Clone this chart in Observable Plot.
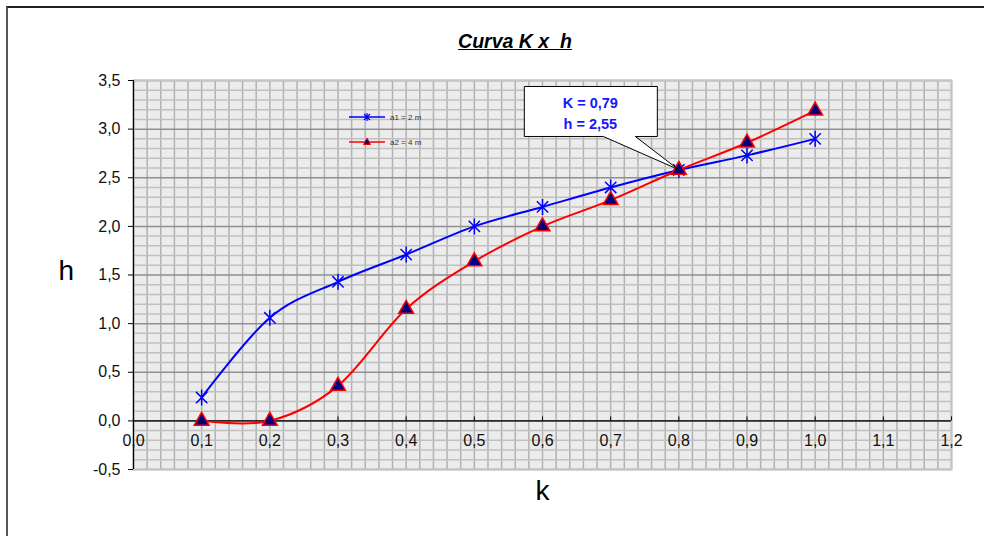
<!DOCTYPE html>
<html>
<head>
<meta charset="utf-8">
<script src="https://cdn.jsdelivr.net/npm/d3@7"></script>
<script src="https://cdn.jsdelivr.net/npm/@observablehq/plot@0.6"></script>
<style>
  html, body { margin: 0; padding: 0; background: #fff; }
  #wrap { position: relative; width: 984px; height: 536px; overflow: hidden; font-family: "Liberation Sans", Arial, sans-serif; }
  #border { position: absolute; left: 6px; top: 6px; width: 1000px; height: 600px; border-left: 2px solid #555; border-top: 2px solid #222; pointer-events: none; }
  #title { height: 60px; box-sizing: border-box; padding-top: 30px; padding-left: 46px; text-align: center; font-size: 19.5px; font-weight: bold; font-style: italic; text-decoration: underline; color: #000; line-height: 22px; }
  svg { display: block; }
</style>
</head>
<body>
<div id="wrap">
  <div id="title">Curva K x&nbsp;&nbsp;h</div>
  <div id="chart"></div>
  <div id="border"></div>
</div>
<script>
// ---- data ----
const kValues = [0.1, 0.2, 0.3, 0.4, 0.5, 0.6, 0.7, 0.8, 0.9, 1.0];
const hA1 = [0.24, 1.06, 1.43, 1.71, 2.00, 2.20, 2.40, 2.58, 2.73, 2.90];   // a1 = 2 m
const hA2 = [0.00, 0.00, 0.36, 1.15, 1.64, 2.00, 2.27, 2.58, 2.86, 3.19];   // a2 = 4 m
const seriesNames = ["a1 = 2 m", "a2 = 4 m"];
const xTicks = [0.0, 0.1, 0.2, 0.3, 0.4, 0.5, 0.6, 0.7, 0.8, 0.9, 1.0, 1.1, 1.2];
const yTicks = [-0.5, 0.0, 0.5, 1.0, 1.5, 2.0, 2.5, 3.0, 3.5];
const calloutLines = ["K = 0,79", "h = 2,55"];
const calloutIndex = 7;

const fmt = d => d.toFixed(1).replace(".", ",");
const dataA1 = kValues.map((k, i) => ({k, h: hA1[i]}));
const dataA2 = kValues.map((k, i) => ({k, h: hA2[i]}));

const minorX = d3.range(0, 1.2001, 0.02).map(v => +v.toFixed(2));
const minorY = d3.range(-0.5, 3.5001, 0.1).map(v => +v.toFixed(1)).filter(v => !yTicks.some(t => Math.abs(t - v) < 1e-9));

const star = {
  draw(ctx, size) {
    const r = Math.sqrt(size / Math.PI);
    const d = r * Math.SQRT1_2;
    ctx.moveTo(-d, -d); ctx.lineTo(d, d);
    ctx.moveTo(-d, d); ctx.lineTo(d, -d);
    ctx.moveTo(0, -r); ctx.lineTo(0, r);
  }
};

const BLUE = "#0000ff", RED = "#ff0000", NAVY = "#000080";

function legendMark(index, scales, values, dim) {
  const g = d3.create("svg:g");
  const x0 = dim.marginLeft + 216, y0 = dim.marginTop + 37;
  const items = [
    {name: seriesNames[0], color: BLUE, type: "star"},
    {name: seriesNames[1], color: RED, type: "tri"}
  ];
  items.forEach((it, i) => {
    const y = y0 + i * 25;
    g.append("line").attr("x1", x0).attr("x2", x0 + 36).attr("y1", y).attr("y2", y)
      .attr("stroke", it.color).attr("stroke-width", 1.5);
    if (it.type === "star") {
      g.append("path").attr("d", "M-3,-3L3,3M-3,3L3,-3M0,-4L0,4")
        .attr("transform", `translate(${x0 + 18},${y})`).attr("stroke", it.color).attr("stroke-width", 1.2).attr("fill", "none");
    } else {
      g.append("path").attr("d", "M0,-4L3.5,2.5L-3.5,2.5Z")
        .attr("transform", `translate(${x0 + 18},${y})`).attr("stroke", RED).attr("fill", NAVY).attr("stroke-width", 1);
    }
    g.append("text").attr("x", x0 + 41).attr("y", y).attr("dy", "0.35em")
      .attr("text-anchor", "start")
      .attr("font-size", 8).attr("fill", "#333").text(it.name);
  });
  return g.node();
}

function calloutMark(index, scales) {
  const tx = scales.x(kValues[calloutIndex]);
  const ty = scales.y(hA2[calloutIndex]);
  const left = tx - 154, top = ty - 83, w = 133, h = 50;
  const g = d3.create("svg:g");
  g.append("path")
    .attr("d", `M${left},${top}H${left + w}V${top + h}H${left + 111}L${tx},${ty}L${left + 79},${top + h}H${left}Z`)
    .attr("fill", "#fff").attr("stroke", "#000").attr("stroke-width", 1);
  calloutLines.forEach((t, i) => {
    g.append("text").attr("x", left + 66).attr("y", top + 16 + i * 21).attr("dy", "0.35em")
      .attr("text-anchor", "middle").attr("font-size", 14.5).attr("font-weight", "bold")
      .attr("fill", "#1515ff").text(t);
  });
  return g.node();
}

const chart = Plot.plot({
  width: 984,
  height: 476,
  marginLeft: 133,
  marginRight: 33,
  marginTop: 20,
  marginBottom: 67,
  style: {fontFamily: "'Liberation Sans', Arial, sans-serif", background: "transparent", color: "#000"},
  x: {domain: [0, 1.2], axis: null},
  y: {domain: [-0.5, 3.5], axis: null},
  marks: [
    Plot.frame({fill: "#ececec", stroke: null}),
    Plot.ruleX(minorX, {stroke: "#b2b2b2", strokeWidth: 1.5}),
    Plot.ruleY(minorY, {stroke: "#c0c0c0", strokeWidth: 1.5}),
    Plot.ruleY(yTicks, {stroke: "#8f8f8f", strokeWidth: 1.5}),
    Plot.frame({stroke: "#c4c4c4", strokeWidth: 2}),
    Plot.ruleX([0], {stroke: "#000", strokeWidth: 1.2}),
    Plot.ruleY([0], {stroke: "#000", strokeWidth: 1.2}),
    Plot.ruleX(xTicks, {x: d => d, y1: 0, y2: 0, insetTop: -4, stroke: "#000", strokeWidth: 1}),
    Plot.text(xTicks, {x: d => d, y: 0, text: fmt, dy: 20, fontSize: 16, fill: "#111"}),
    Plot.axisY({ticks: yTicks, tickFormat: fmt, tickSize: 5, tickPadding: 8, fontSize: 16, label: null, stroke: "#000", fill: "#111"}),
    Plot.line(dataA1, {x: "k", y: "h", stroke: BLUE, strokeWidth: 2, curve: "cardinal"}),
    Plot.dot(dataA1, {x: "k", y: "h", symbol: star, r: 8, stroke: BLUE, strokeWidth: 1.5, fill: "none"}),
    Plot.line(dataA2, {x: "k", y: "h", stroke: RED, strokeWidth: 2, curve: "cardinal"}),
    Plot.dot(dataA2, {x: "k", y: "h", symbol: "triangle", r: 5.5, fill: NAVY, stroke: RED, strokeWidth: 1.5}),
    legendMark,
    calloutMark,
    Plot.text(["h"], {frameAnchor: "left", dx: -75, dy: -4, fontSize: 28, fill: "#000"}),
    Plot.text(["k"], {frameAnchor: "bottom", dy: 30, fontSize: 28, fill: "#000"})
  ]
});
document.getElementById("chart").appendChild(chart);
</script>
</body>
</html>
